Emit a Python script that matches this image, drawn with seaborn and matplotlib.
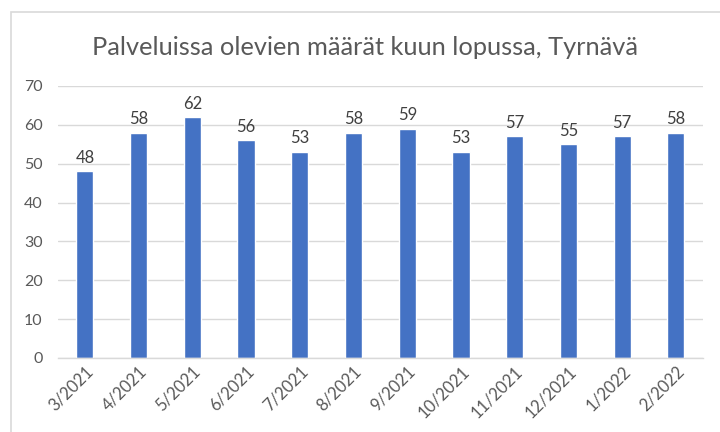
import pandas as pd
import seaborn as sns
import matplotlib.pyplot as plt
from matplotlib.patches import Rectangle

# kuukaudet ja arvot
kuukaudet = ["3/2021", "4/2021", "5/2021", "6/2021", "7/2021", "8/2021",
             "9/2021", "10/2021", "11/2021", "12/2021", "1/2022", "2/2022"]
maarat = [48, 58, 62, 56, 53, 58, 59, 53, 57, 55, 57, 58]
y_ticks = [0, 10, 20, 30, 40, 50, 60, 70]

df = pd.DataFrame({"kuukausi": kuukaudet, "maara": maarat})

sns.set_style("white")
plt.rcParams['font.family'] = ['Lato', 'DejaVu Sans']

fig = plt.figure(figsize=(7.2, 4.32), dpi=100)
ax = fig.add_axes([0.0806, 0.1713, 0.8954, 0.6297])

# kaavion reunus
fig.patches.append(Rectangle((0.015, -0.1), 1.2, 1.072, transform=fig.transFigure,
                             fill=False, edgecolor='#D9D9D9', linewidth=1.2))

sns.barplot(x="kuukausi", y="maara", data=df, color='#4472C4', width=0.32,
            saturation=1, ax=ax)

ax.set_ylim(0, 70)
ax.set_xlim(-0.5, len(kuukaudet) - 0.5)
ax.set_yticks(y_ticks)
ax.yaxis.grid(True, color='#D9D9D9', linewidth=1)
ax.set_axisbelow(True)
for s in ['top', 'right', 'left']:
    ax.spines[s].set_visible(False)
ax.spines['bottom'].set_color('#D9D9D9')
ax.spines['bottom'].set_linewidth(1)

ax.tick_params(axis='y', length=0, pad=11, labelsize=11.5, labelcolor='#595959')
ax.tick_params(axis='x', length=0, pad=4, labelsize=12, labelcolor='#595959')
plt.setp(ax.get_xticklabels(), rotation=45, ha='right', rotation_mode='anchor')
ax.set_xlabel('')
ax.set_ylabel('')

ax.bar_label(ax.containers[0], padding=4, fontsize=12, color='#404040')

fig.text(0.507, 0.89, 'Palveluissa olevien määrät kuun lopussa, Tyrnävä',
         ha='center', va='center', fontsize=18.3, color='#595959')

plt.savefig('out.png', dpi=100)
